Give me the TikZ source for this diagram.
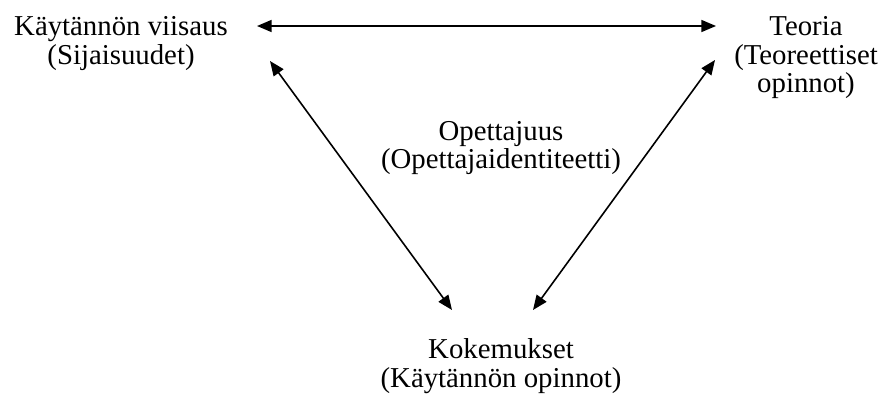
\documentclass[tikz,border=0pt]{standalone}
\usepackage{fontspec}
\setmainfont{Liberation Serif}
\usetikzlibrary{arrows.meta}
\usetikzlibrary{positioning}
\tikzset{every node/.style={font=\fontsize{21.6}{21.2}\selectfont, align=center, inner sep=0}}
\tikzset{biarrow/.style={{Triangle[length=11pt, width=9pt]}-{Triangle[length=11pt, width=9pt]}, line width=1.2pt}}

\begin{document}
\begin{tikzpicture}[x=0.75pt, y=-0.75pt]

\useasboundingbox (0,0) rectangle (881,396);

% tekstit (base = viimeisen rivin perusviiva)
\node[anchor=base] (viisaus) at (121,64) {Käytännön viisaus\\(Sijaisuudet)};
\node[anchor=base] (teoria) at (806,92.5) {Teoria\\(Teoreettiset\\opinnot)};
\node[anchor=base] (opettajuus) at (501,168.5) {Opettajuus\\(Opettajaidentiteetti)};
\node[anchor=base] (kokemukset) at (501,387) {Kokemukset\\(Käytännön opinnot)};

% nuolten päät
\coordinate (V1) at (257,26);
\coordinate (T1) at (716,26);
\coordinate (V2) at (270,61);
\coordinate (K1) at (452,310);
\coordinate (T2) at (715,60);
\coordinate (K2) at (533,310);

\draw[biarrow] (V1) -- (T1);
\draw[biarrow] (V2) -- (K1);
\draw[biarrow] (T2) -- (K2);

\end{tikzpicture}
\end{document}
